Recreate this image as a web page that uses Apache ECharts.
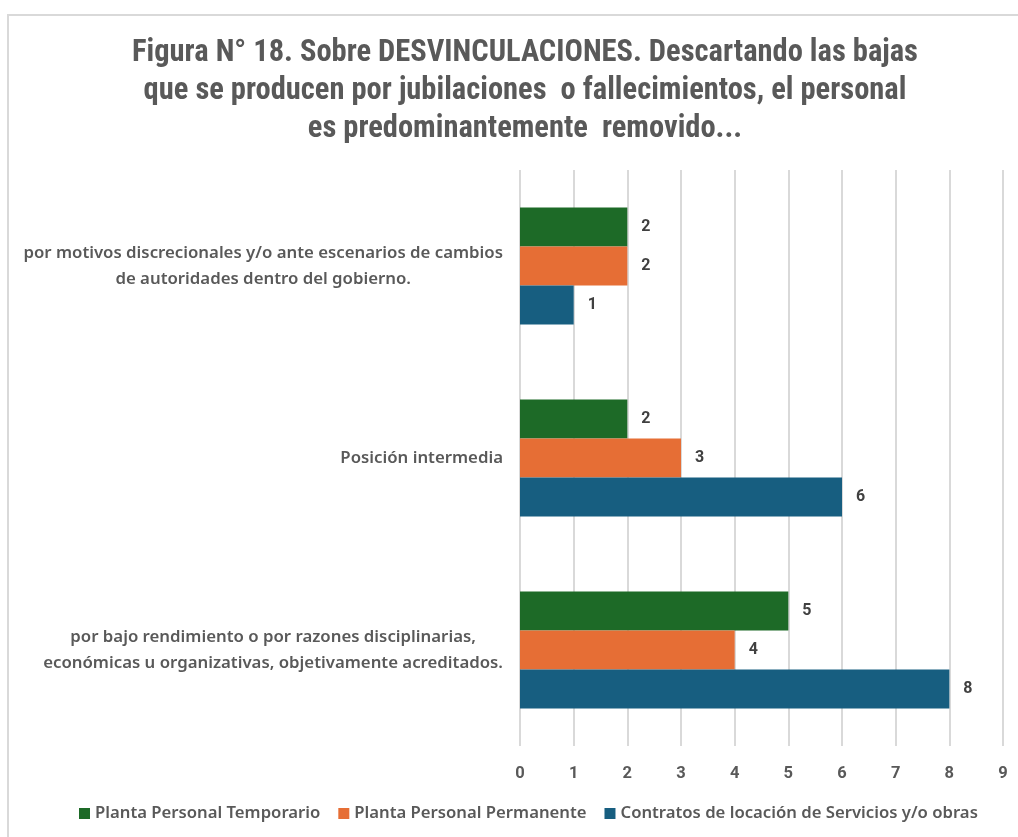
<!DOCTYPE html>
<html>
<head>
<meta charset="utf-8">
<script src="https://cdn.jsdelivr.net/npm/echarts@6/dist/echarts.min.js"></script>
<style>
  html, body { margin: 0; padding: 0; background: #fff; }
  #frame { position: absolute; left: 7px; top: 14px; right: 0; bottom: 0; border-left: 2px solid #d9d9d9; border-top: 2px solid #d9d9d9; }
  #chart { position: absolute; left: 0; top: 0; width: 1018px; height: 837px; }
</style>
</head>
<body>
<div id="frame"></div>
<div id="chart"></div>
<script>
const categories = [
  'por motivos discrecionales y/o ante escenarios de cambios\nde autoridades dentro del gobierno.',
  'Posición intermedia',
  'por bajo rendimiento o por razones disciplinarias,\neconómicas u organizativas, objetivamente acreditados.'
]
const temporario = [2, 2, 5]
const permanente = [2, 3, 4]
const contratos = [1, 6, 8]
const seriesNames = ['Planta Personal Temporario', 'Planta Personal Permanente', 'Contratos de locación de Servicios y/o obras']
const colors = ['#1d6a27', '#e66e35', '#175e80']

const chart = echarts.init(document.getElementById('chart'))

const labelStyle = {
  show: true,
  position: 'right',
  distance: 14,
  color: '#404040',
  fontFamily: 'Roboto, "Noto Sans", sans-serif',
  fontWeight: 'bold',
  fontSize: 16
}

const makeSeries = (name, data, color) => ({
  name: name,
  type: 'bar',
  data: data,
  barGap: '0%',
  barCategoryGap: '39%',
  itemStyle: { color: color },
  label: labelStyle
})

chart.setOption({
  animation: false,
  title: {
    text: 'Figura N° 18. Sobre DESVINCULACIONES. Descartando las bajas\nque se producen por jubilaciones  o fallecimientos, el personal\nes predominantemente  removido...',
    left: 520,
    top: 29,
    textAlign: 'center',
    textStyle: {
      fontFamily: '"Liberation Sans Narrow", "Roboto Condensed", "Noto Sans", sans-serif',
      fontWeight: 'bold',
      fontSize: 30.5,
      lineHeight: 38,
      color: '#595959'
    }
  },
  legend: {
    bottom: 10,
    left: 74,
    itemWidth: 11,
    itemHeight: 11,
    itemGap: 18,
    icon: 'rect',
    textStyle: {
      fontFamily: '"Noto Sans", sans-serif',
      fontWeight: 600,
      fontSize: 16.7,
      color: '#595959'
    },
    data: seriesNames
  },
  grid: {
    left: 520,
    right: 15,
    top: 170,
    bottom: 91
  },
  xAxis: {
    type: 'value',
    min: 0,
    max: 9,
    interval: 1,
    axisLine: { show: false },
    axisTick: { show: false },
    splitLine: { lineStyle: { color: '#d9d9d9', width: 2 } },
    axisLabel: {
      margin: 19,
      color: '#595959',
      fontFamily: 'Roboto, "Noto Sans", sans-serif',
      fontWeight: 'bold',
      fontSize: 16.5
    }
  },
  yAxis: {
    type: 'category',
    inverse: true,
    data: categories,
    axisLine: { show: false },
    axisTick: { show: false },
    axisLabel: {
      margin: 17,
      color: '#595959',
      formatter: v => v.split('\n').map(l => '{c|' + l + '}').join('\n'),
      rich: {
        c: {
          align: 'center',
          color: '#595959',
          fontFamily: '"Noto Sans", sans-serif',
          fontWeight: 600,
          fontSize: 16.8,
          lineHeight: 26
        }
      }
    }
  },
  series: [
    makeSeries(seriesNames[0], temporario, colors[0]),
    makeSeries(seriesNames[1], permanente, colors[1]),
    makeSeries(seriesNames[2], contratos, colors[2])
  ]
})
</script>
</body>
</html>
